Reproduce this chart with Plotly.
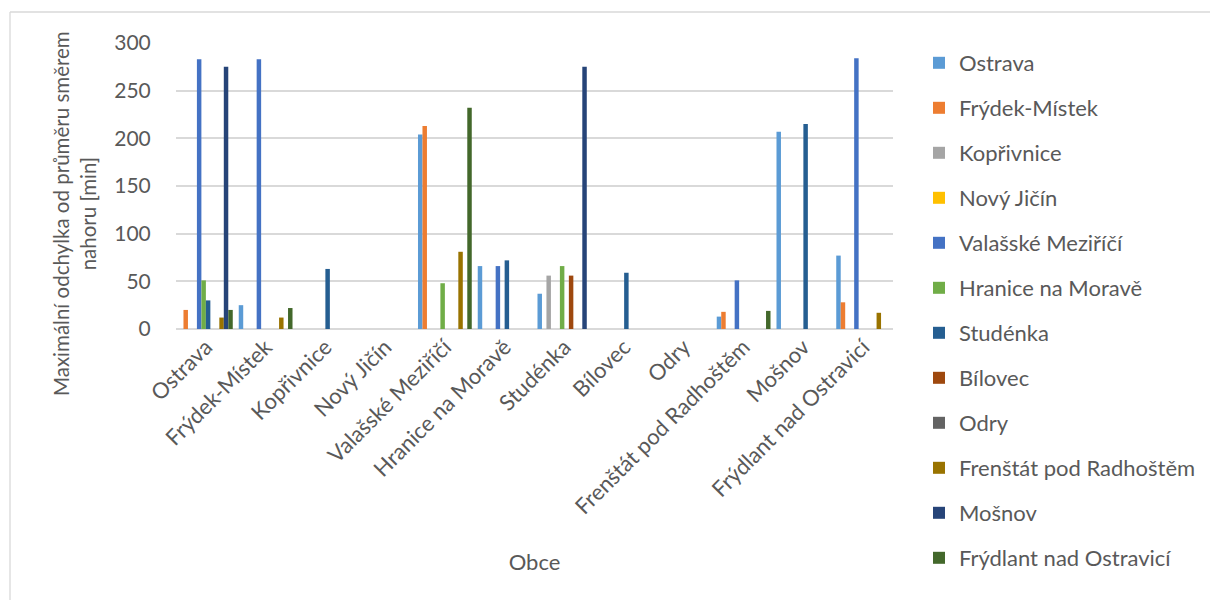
import plotly.graph_objects as go

# Municipalities (x-axis categories, also the series names)
obce = [
    "Ostrava", "Frýdek-Místek", "Kopřivnice", "Nový Jičín",
    "Valašské Meziříčí", "Hranice na Moravě", "Studénka", "Bílovec",
    "Odry", "Frenštát pod Radhoštěm", "Mošnov", "Frýdlant nad Ostravicí",
]

# Maximum deviation above the average [min], one list per series
ostrava = [0, 25, 0, 0, 204, 66, 37, 0, 0, 13, 207, 77]
frydek_mistek = [20, 0, 0, 0, 213, 0, 0, 0, 0, 18, 0, 28]
koprivnice = [0, 0, 0, 0, 0, 0, 56, 0, 0, 0, 0, 0]
novy_jicin = [0, 0, 0, 0, 0, 0, 0, 0, 0, 0, 0, 0]
valasske_mezirici = [283, 283, 0, 0, 0, 66, 0, 0, 0, 51, 0, 284]
hranice = [51, 0, 0, 0, 48, 0, 66, 0, 0, 0, 0, 0]
studenka = [30, 0, 63, 0, 0, 72, 0, 59, 0, 0, 215, 0]
bilovec = [0, 0, 0, 0, 0, 0, 56, 0, 0, 0, 0, 0]
odry = [0, 0, 0, 0, 0, 0, 0, 0, 0, 0, 0, 0]
frenstat = [12, 12, 0, 0, 81, 0, 0, 0, 0, 0, 0, 17]
mosnov = [275, 0, 0, 0, 0, 0, 275, 0, 0, 0, 0, 0]
frydlant = [20, 22, 0, 0, 232, 0, 0, 0, 0, 19, 0, 0]

series_values = [
    ostrava, frydek_mistek, koprivnice, novy_jicin, valasske_mezirici,
    hranice, studenka, bilovec, odry, frenstat, mosnov, frydlant,
]

colors = [
    "#5B9BD5", "#ED7D31", "#A5A5A5", "#FFC000", "#4472C4", "#70AD47",
    "#255E91", "#9E480E", "#636363", "#997300", "#264478", "#43682B",
]

y_ticks = [0, 50, 100, 150, 200, 250, 300]
y_title = "Maximální odchylka od průměru směrem<br>nahoru [min]"
x_title = "Obce"

FONT = "Lato"
TEXT = "#595959"
GRID = "#D9D9D9"

W, H = 1210, 600
ML, MR, MT, MB = 176, 317, 43, 271

fig = go.Figure()
for name, vals, col in zip(obce, series_values, colors):
    fig.add_trace(go.Bar(
        x=obce, y=vals, name=name, legendgroup=name,
        marker=dict(color=col, line=dict(width=0)),
    ))

pw, ph = W - ML - MR, H - MT - MB


def px_x(p):
    return (p - ML) / pw


def px_y(p):
    return (H - MB - p) / ph


# Outer chart frame (left and top edges)
frame = dict(color=GRID, width=1.3)
fig.add_shape(type="line", xref="paper", yref="paper",
              x0=px_x(10), x1=px_x(10), y0=px_y(12), y1=px_y(620), line=frame)
fig.add_shape(type="line", xref="paper", yref="paper",
              x0=px_x(10), x1=px_x(1230), y0=px_y(12), y1=px_y(12), line=frame)

# Value-axis title, placed as a rotated two-line label
fig.add_annotation(
    text=y_title, textangle=-90, showarrow=False,
    xref="paper", yref="paper", x=px_x(74), y=px_y(213),
    xanchor="center", yanchor="middle", align="center",
    font=dict(family=FONT, size=20.5, color=TEXT),
)

fig.update_layout(
    width=W, height=H,
    margin=dict(l=ML, r=MR, t=MT, b=MB, autoexpand=False),
    paper_bgcolor="white", plot_bgcolor="white",
    barmode="group", bargap=0.1, bargroupgap=0,
    font=dict(family=FONT, color=TEXT, size=21),
    xaxis=dict(
        categoryorder="array", categoryarray=obce,
        tickangle=-45, tickfont=dict(size=22, color=TEXT),
        showgrid=False, showline=False, ticks="",
        automargin=False,
        title=dict(text=x_title, font=dict(size=22, color=TEXT), standoff=36),
    ),
    yaxis=dict(
        range=[0, 300], tickvals=y_ticks,
        tickfont=dict(size=21, color=TEXT),
        showgrid=True, gridcolor=GRID, gridwidth=1.5,
        zeroline=True, zerolinecolor=GRID, zerolinewidth=1.5,
        showline=False, ticks="outside", ticklen=20,
        tickcolor="rgba(0,0,0,0)", automargin=False,
    ),
    legend=dict(
        xref="paper", x=px_x(919), xanchor="left",
        yref="container", y=1 - 42 / H, yanchor="top",
        maxheight=H - 20,
        font=dict(size=22, color=TEXT), tracegroupgap=13.4,
        bgcolor="rgba(0,0,0,0)",
    ),
)

fig.write_html("out.html")
